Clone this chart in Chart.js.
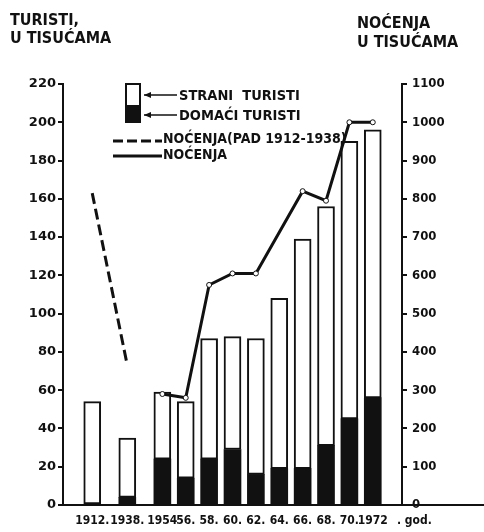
<!DOCTYPE html>
<html>
<head>
<meta charset="utf-8">
<script src="https://cdn.jsdelivr.net/npm/chart.js@4.4.1/dist/chart.umd.min.js"></script>
<style>
    html, body { margin: 0; padding: 0; background: #fff; }
    #wrap { width: 484px; height: 532px; }
</style>
</head>
<body>
<div id="wrap"><canvas id="turistiChart" width="484" height="532"></canvas></div>
<script>
const godine = ['1912.', '1938.', '1954', '56.', '58.', '60.', '62.', '64.', '66.', '68.', '70.', '1972'];
const domaciTuristi = [0, 4, 24, 14, 24, 29, 16, 19, 19, 31, 45, 56];
const straniTuristi = [54, 31, 35, 40, 63, 59, 71, 89, 120, 125, 145, 140];
const nocenjaPad = [815, 365, null, null, null, null, null, null, null, null, null, null];
const nocenja = [null, null, 290, 280, 575, 605, 605, null, 820, 795, 1000, 1000];

const CRNA = '#111';
const uskiFont = '"DejaVu Sans Condensed", "DejaVu Sans", sans-serif';

// the old chart squeezes the post-war years together, so pad the category axis with empty slots
const slotovi = [];
function dodajPrazno(n) {
    for (let i = 0; i < n; i++) slotovi.push(-1);
}
dodajPrazno(2);
godine.forEach((g, i) => {
    if (i > 0) dodajPrazno(i <= 2 ? 2 : 1);
    slotovi.push(i);
});
dodajPrazno(2);

const labels = slotovi.map(i => i < 0 ? '' : godine[i]);
const razvuci = arr => slotovi.map(i => i < 0 ? null : arr[i]);

function strelica(ctx, x1, x2, y) {
    ctx.beginPath();
    ctx.moveTo(x2, y);
    ctx.lineTo(x1, y);
    ctx.stroke();
    ctx.beginPath();
    ctx.moveTo(x1, y);
    ctx.lineTo(x1 + 7, y - 3);
    ctx.lineTo(x1 + 7, y + 3);
    ctx.closePath();
    ctx.fill();
}

const crtez = {
    id: 'crtez',
    afterDraw(chart) {
        const ctx = chart.ctx;
        ctx.save();
        ctx.fillStyle = CRNA;
        ctx.strokeStyle = CRNA;
        ctx.textBaseline = 'middle';
        ctx.textAlign = 'left';

        // axis titles
        ctx.font = 'bold 16px ' + uskiFont;
        ctx.fillText('TURISTI,', 10, 21);
        ctx.fillText('U TISUĆAMA', 10, 39);
        ctx.fillText('NOĆENJA', 357, 24);
        ctx.fillText('U TISUĆAMA', 357, 43);

        // legend
        ctx.lineWidth = 2;
        ctx.fillStyle = '#fff';
        ctx.fillRect(126, 84, 14, 38);
        ctx.fillStyle = CRNA;
        ctx.fillRect(126, 105, 14, 17);
        ctx.strokeRect(126, 84, 14, 38);
        ctx.lineWidth = 1.5;
        strelica(ctx, 144, 177, 95);
        strelica(ctx, 144, 177, 115);

        ctx.font = 'bold 14.5px ' + uskiFont;
        ctx.fillText('STRANI  TURISTI', 179, 96);
        ctx.fillText('DOMAĆI TURISTI', 179, 116);
        ctx.font = 'bold 14px ' + uskiFont;
        ctx.fillText('NOĆENJA(PAD 1912-1938)', 163, 139);
        ctx.fillText('NOĆENJA', 163, 155);

        ctx.lineWidth = 3;
        ctx.setLineDash([10, 4]);
        ctx.beginPath();
        ctx.moveTo(113, 141);
        ctx.lineTo(162, 141);
        ctx.stroke();
        ctx.setLineDash([]);
        ctx.beginPath();
        ctx.moveTo(113, 156);
        ctx.lineTo(162, 156);
        ctx.stroke();

        // baseline runs on past the right axis
        const a = chart.chartArea;
        ctx.lineWidth = 2;
        ctx.beginPath();
        ctx.moveTo(a.right, a.bottom);
        ctx.lineTo(484, a.bottom);
        ctx.stroke();

        ctx.font = 'bold 12px ' + uskiFont;
        ctx.fillText('. god.', 397, 521);
        ctx.restore();
    }
};

const ctx = document.getElementById('turistiChart').getContext('2d');
new Chart(ctx, {
    type: 'bar',
    data: {
        labels: labels,
        datasets: [
            {
                type: 'line',
                label: 'NOĆENJA',
                data: razvuci(nocenja),
                yAxisID: 'y2',
                borderColor: CRNA,
                borderWidth: 3,
                pointRadius: 2.5,
                pointBackgroundColor: '#fff',
                pointBorderColor: CRNA,
                pointBorderWidth: 1,
                spanGaps: true,
                tension: 0,
                order: 0
            },
            {
                type: 'line',
                label: 'NOĆENJA (PAD 1912-1938)',
                data: razvuci(nocenjaPad),
                yAxisID: 'y2',
                borderColor: CRNA,
                borderWidth: 3,
                borderDash: [11, 5],
                pointRadius: 0,
                spanGaps: true,
                order: 0
            },
            {
                label: 'DOMAĆI TURISTI',
                data: razvuci(domaciTuristi),
                backgroundColor: CRNA,
                borderWidth: 0,
                stack: 't',
                barThickness: 17,
                order: 1
            },
            {
                label: 'STRANI TURISTI',
                data: razvuci(straniTuristi),
                backgroundColor: '#fff',
                borderColor: CRNA,
                borderWidth: 2,
                borderSkipped: false,
                stack: 't',
                barThickness: 17,
                order: 1
            }
        ]
    },
    options: {
        responsive: false,
        animation: false,
        layout: { padding: { top: 84, left: 0, right: 0, bottom: 0 } },
        plugins: {
            legend: { display: false },
            tooltip: { enabled: false }
        },
        scales: {
            x: {
                stacked: true,
                offset: true,
                grid: { display: false, drawTicks: false },
                border: { display: true, color: CRNA, width: 2 },
                ticks: {
                    autoSkip: false,
                    maxRotation: 0,
                    minRotation: 0,
                    color: CRNA,
                    padding: 9,
                    font: { family: uskiFont, size: 12, weight: 'bold' }
                },
                afterFit: s => { s.height = 27; }
            },
            y: {
                stacked: true,
                position: 'left',
                min: 0,
                max: 220,
                ticks: {
                    stepSize: 20,
                    color: CRNA,
                    padding: 2,
                    font: { family: 'DejaVu Sans', size: 13, weight: 'bold' }
                },
                grid: { drawOnChartArea: false, color: CRNA, lineWidth: 2, tickLength: 5 },
                border: { color: CRNA, width: 2 },
                afterFit: s => { s.width = 63; }
            },
            y2: {
                position: 'right',
                min: 0,
                max: 1100,
                ticks: {
                    stepSize: 100,
                    color: CRNA,
                    padding: 5,
                    font: { family: 'DejaVu Sans Condensed', size: 13, weight: 'bold' },
                    callback: v => String(v)
                },
                grid: { drawOnChartArea: false, color: CRNA, lineWidth: 2, tickLength: 5 },
                border: { color: CRNA, width: 2 },
                afterFit: s => { s.width = 82; }
            }
        }
    },
    plugins: [crtez]
});
</script>
</body>
</html>
